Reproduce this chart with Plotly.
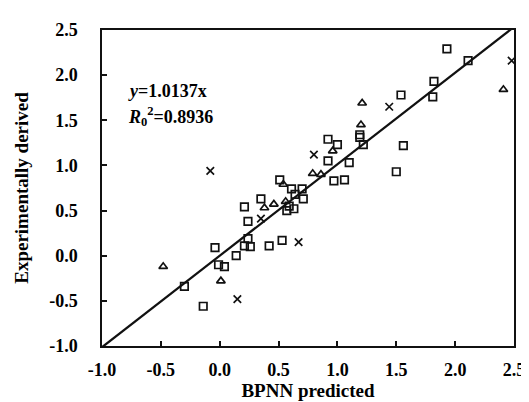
import plotly.graph_objects as go

# Data (BPNN predicted vs experimentally derived)
sq_x = [1.93, 2.11, 1.82, 1.81, 1.54, 1.19, 1.19, 1.22, 1.56, 1.50, 0.92, 1.00, 0.92, 1.10,
        0.97, 1.06, 0.51, 0.61, 0.70, 0.64, 0.71, 0.59, 0.57, 0.63, 0.53, 0.35, 0.21, 0.24,
        0.24, 0.21, 0.26, 0.42, -0.04, 0.14, -0.01, 0.04, -0.30, -0.14]
sq_y = [2.29, 2.16, 1.93, 1.76, 1.78, 1.34, 1.31, 1.23, 1.22, 0.93, 1.29, 1.23, 1.05, 1.03,
        0.83, 0.84, 0.84, 0.74, 0.74, 0.68, 0.63, 0.55, 0.50, 0.52, 0.17, 0.63, 0.54, 0.38,
        0.19, 0.11, 0.10, 0.11, 0.09, 0.00, -0.10, -0.12, -0.34, -0.56]

tri_x = [-0.48, 0.01, 0.38, 0.46, 0.54, 0.56, 0.79, 0.86, 0.96, 1.20, 1.21, 2.41]
tri_y = [-0.12, -0.28, 0.53, 0.57, 0.79, 0.60, 0.91, 0.90, 1.16, 1.45, 1.69, 1.84]

cross_x = [-0.08, 0.15, 0.35, 0.67, 0.80, 1.44, 2.48]
cross_y = [0.94, -0.48, 0.41, 0.15, 1.12, 1.65, 2.16]

slope = 1.0137
fit_x = [-1.0, 2.5]
fit_y = [slope * v for v in fit_x]

tick_vals = [-1.0, -0.5, 0.0, 0.5, 1.0, 1.5, 2.0, 2.5]
tick_text = ["-1.0", "-0.5", "0.0", "0.5", "1.0", "1.5", "2.0", "2.5"]

FONT = "Liberation Serif"
INK = "#111111"
TXT = "#000000"

fig = go.Figure()
fig.add_trace(go.Scatter(x=fit_x, y=fit_y, mode="lines",
                         line=dict(color=INK, width=2.2), showlegend=False))
fig.add_trace(go.Scatter(x=sq_x, y=sq_y, mode="markers", showlegend=False,
                         marker=dict(symbol="square-open", size=7.5, color=INK,
                                     line=dict(width=1.7, color=INK))))
fig.add_trace(go.Scatter(x=tri_x, y=tri_y, mode="markers", showlegend=False,
                         marker=dict(symbol="triangle-up-open", size=7.5, color=INK,
                                     line=dict(width=1.7, color=INK))))
fig.add_trace(go.Scatter(x=cross_x, y=cross_y, mode="markers", showlegend=False,
                         marker=dict(symbol="x-thin-open", size=7.5, color=INK,
                                     line=dict(width=1.7, color=INK))))

axis_common = dict(
    range=[-1.0, 2.5], tickvals=tick_vals, ticktext=tick_text,
    showgrid=False, zeroline=False, showline=True, mirror=True,
    linecolor=INK, linewidth=1.5, ticks="inside", ticklen=5, tickwidth=1.5,
    tickcolor=INK, tickfont=dict(family=FONT, size=18, color=TXT, weight="bold"),
)

fig.update_layout(
    width=529, height=402,
    margin=dict(l=93, r=12, t=20, b=59),
    paper_bgcolor="white", plot_bgcolor="white",
    font=dict(family=FONT, color=TXT),
    xaxis=dict(**axis_common, ticklabelstandoff=7,
               title=dict(text="<b>BPNN predicted</b>", standoff=4,
                          font=dict(family=FONT, size=19, color=TXT))),
    yaxis=dict(**axis_common, ticklabelstandoff=19,
               title=dict(text="<b>Experimentally derived</b>", standoff=16,
                          font=dict(family=FONT, size=19, color=TXT))),
    annotations=[
        dict(x=-0.80, y=1.82, xref="x", yref="y", xanchor="left", yanchor="middle",
             showarrow=False, text="<b><i>y</i>=1.0137x</b>",
             font=dict(family=FONT, size=18, color=TXT)),
        dict(x=-0.80, y=1.54, xref="x", yref="y", xanchor="left", yanchor="middle",
             showarrow=False, text="<b><i>R</i><sub>0</sub><sup>2</sup>=0.8936</b>",
             font=dict(family=FONT, size=18, color=TXT)),
    ],
)

fig.write_html("out.html")
